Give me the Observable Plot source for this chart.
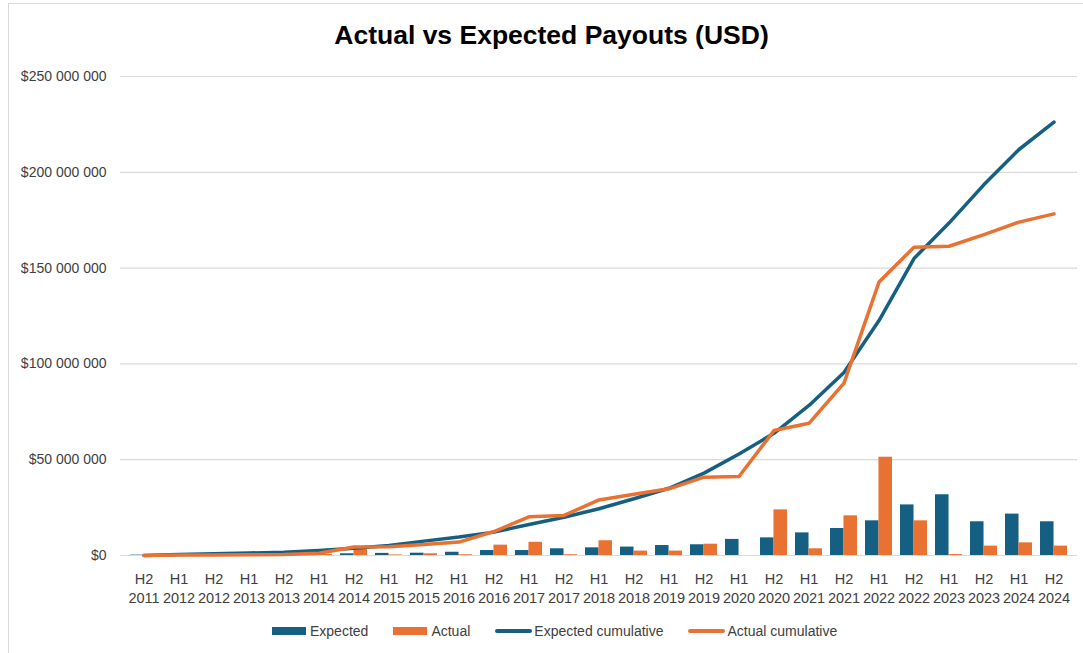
<!DOCTYPE html>
<html>
<head>
<meta charset="utf-8">
<script src="https://cdn.jsdelivr.net/npm/d3@7"></script>
<script src="https://cdn.jsdelivr.net/npm/@observablehq/plot@0.6"></script>
<style>
  html, body { margin: 0; padding: 0; background: #fff; }
  #wrap { position: relative; width: 1083px; height: 653px; overflow: hidden; font-family: "Liberation Sans", Arial, sans-serif; }
  #frame { position: absolute; left: 8px; top: 3px; width: 1200px; height: 800px; border-left: 1px solid #d9d9d9; border-top: 1px solid #d9d9d9; }
  #title { position: absolute; left: 0; top: 22px; width: 1103px; text-align: center; font-size: 26.5px; line-height: 27px; font-weight: bold; color: #000; }
  #chart { position: absolute; left: 0; top: 60px; }
  #legend { position: absolute; left: 272px; top: 622px; display: flex; align-items: center; font-size: 14px; color: #404040; height: 18px; }
  .item { display: flex; align-items: center; margin-right: 25px; }
  .sw { width: 34px; height: 8px; margin-right: 4px; }
  .ln { width: 37px; height: 4px; border-radius: 2px; margin-right: 2px; }
</style>
</head>
<body>
<div id="wrap">
  <div id="frame"></div>
  <div id="title">Actual vs Expected Payouts (USD)</div>
  <div id="chart"></div>
  <div id="legend"></div>
</div>
<script>
// Half-year periods
const periods = ["H2","H1","H2","H1","H2","H1","H2","H1","H2","H1","H2","H1","H2","H1","H2","H1","H2","H1","H2","H1","H2","H1","H2","H1","H2","H1","H2"];
const years   = ["2011","2012","2012","2013","2013","2014","2014","2015","2015","2016","2016","2017","2017","2018","2018","2019","2019","2020","2020","2021","2021","2022","2022","2023","2023","2024","2024"];

// Values in millions of USD
const expected = [0.2,0.4,0.4,0.4,0.4,0.8,0.9,1.1,1.2,1.7,2.6,2.6,3.5,4.0,4.4,5.2,5.6,8.4,9.2,11.8,14.1,18.1,26.4,31.7,17.6,21.6,17.6];
const actual   = [0.1,0.1,0.1,0.1,0.1,0.6,3.5,0.3,0.9,0.4,5.4,6.9,0.4,7.7,2.3,2.3,5.9,0,23.8,3.5,20.7,51.3,18.1,0.5,4.9,6.6,4.9];
const expectedCumulative = [0,0.5,0.9,1.3,1.7,2.6,3.8,5.2,7.5,9.6,12.2,16.2,20.0,24.4,29.6,35.1,43.0,53.0,63.8,78.3,95.5,122.6,155.0,173.5,193.6,211.9,226.2];
const actualCumulative   = [0,0.2,0.3,0.4,0.5,1.2,4.4,4.6,5.7,7.0,12.5,20.2,20.9,29.0,32.0,34.8,40.9,41.2,65.2,69.0,90.0,142.7,160.9,161.4,167.5,174.0,178.3];

const yTicks = [0, 50e6, 100e6, 150e6, 200e6, 250e6];

const seriesNames = ["Expected", "Actual", "Expected cumulative", "Actual cumulative"];
const colors = ["#156082", "#E97132", "#156082", "#E97132"];

const categories = periods.map((p, i) => p + "\n" + years[i]);
const rows = categories.map((c, i) => ({
  cat: c,
  expected: expected[i] * 1e6,
  actual: actual[i] * 1e6,
  expCum: expectedCumulative[i] * 1e6,
  actCum: actualCumulative[i] * 1e6
}));

const W = 1083, H = 560, ML = 120, MR = 6, MT = 16, MB = 65;
const pIn = 0.24, pOut = 0.12;
const step = (W - ML - MR) / (categories.length - pIn + 2 * pOut);
const bw = step * (1 - pIn);
const half = bw / 2;

const fmt = d => "$" + d3.format(",")(d).replace(/,/g, " ");

const chart = Plot.plot({
  width: W, height: H,
  marginLeft: ML, marginRight: MR, marginTop: MT, marginBottom: MB,
  style: { fontFamily: "'Liberation Sans', Arial, sans-serif", fontSize: "14px", color: "#404040", background: "transparent" },
  x: { type: "band", domain: categories, paddingInner: pIn, paddingOuter: pOut, label: null },
  y: { domain: [0, 250e6], label: null },
  marks: [
    Plot.gridY(yTicks, { stroke: "#d9d9d9", strokeOpacity: 1, strokeWidth: 1.2 }),
    Plot.axisY(yTicks, { tickSize: 0, tickPadding: 14, tickFormat: fmt, label: null, fill: "#404040" }),
    Plot.axisX({ tickSize: 0, tickPadding: 14, lineHeight: 1.36, fontSize: 14.5, label: null, fill: "#404040" }),
    Plot.barY(rows, { x: "cat", y: "expected", fill: colors[0], insetRight: half }),
    Plot.barY(rows, { x: "cat", y: "actual", fill: colors[1], insetLeft: half }),
    Plot.line(rows, { x: "cat", y: "expCum", stroke: colors[2], strokeWidth: 3.5, strokeLinejoin: "round", strokeLinecap: "round" }),
    Plot.line(rows, { x: "cat", y: "actCum", stroke: colors[3], strokeWidth: 3.5, strokeLinejoin: "round", strokeLinecap: "round" })
  ]
});
document.getElementById("chart").appendChild(chart);

// Legend
const legend = document.getElementById("legend");
seriesNames.forEach((name, i) => {
  const item = document.createElement("div");
  item.className = "item";
  const sw = document.createElement("div");
  sw.className = i < 2 ? "sw" : "ln";
  sw.style.background = colors[i];
  const t = document.createElement("span");
  t.textContent = name;
  item.appendChild(sw);
  item.appendChild(t);
  legend.appendChild(item);
});
</script>
</body>
</html>
